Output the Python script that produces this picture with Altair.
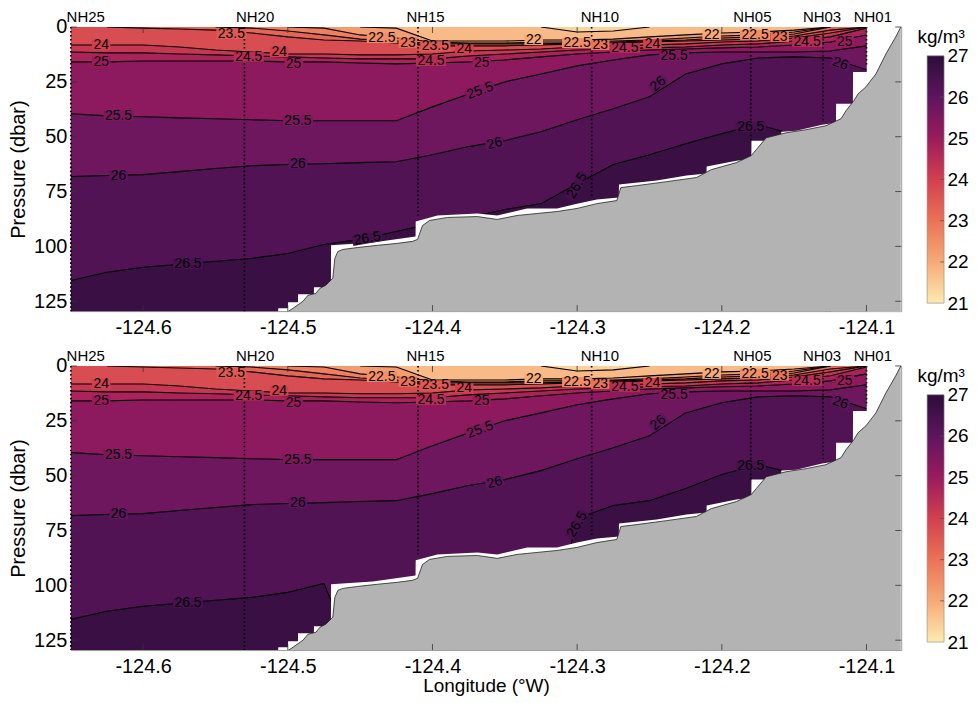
import altair as alt
import pandas as pd

# ---------------- data ----------------
LON = [-124.650, -124.625, -124.600, -124.575, -124.550, -124.525, -124.500, -124.475,
       -124.450, -124.425, -124.400, -124.375, -124.350, -124.325, -124.300, -124.275,
       -124.250, -124.225, -124.200, -124.175, -124.150, -124.125, -124.100]

LEVELS = [21.5, 22.0, 22.5, 23.0, 23.5, 24.0, 24.5, 25.0, 25.5, 26.0, 26.5]

# isopycnal depth (dbar) at each LON; 0 = outcropped, 140 = below the data
D215 = [0, 0, 0, 0, 0, 0, 0, 0, 0, 0, 0, 0, 0, 0, 2.3, 1.8, 0, 0, 0, 0, 0, 0, 0]
D220 = [0, 0, 0, 0, 0, 0, 0, 0, 0, 0.5, 6.4, 6.4, 6.4, 5.9, 5.9, 5.5, 4.5, 3.6, 2.7, 2.3, 1.4, 0, 0]
D225 = [0, 0, 0, 0, 0, 0, 0, 0.5, 3.6, 5.0, 6.8, 7.3, 7.3, 6.8, 6.8, 6.4, 5.9, 5.0, 4.1, 3.6, 2.3, 0, 0]
D230 = [0, 0, 0, 0, 0, 0.5, 1.8, 3.6, 5.5, 6.4, 7.7, 7.7, 7.7, 7.7, 7.3, 6.8, 6.4, 5.9, 5.0, 4.5, 3.2, 0, 0]
D235 = [0, 0, 0.5, 0.9, 1.4, 2.7, 4.5, 5.9, 6.4, 7.3, 8.6, 8.6, 8.6, 8.2, 7.7, 7.3, 6.8, 6.4, 5.9, 5.5, 4.1, 1.4, 0]
D240 = [8.2, 8.2, 8.2, 9.1, 10.5, 11.4, 12.3, 12.3, 12.7, 12.7, 12.3, 10.9, 10.5, 10.0, 9.1, 8.6, 8.2, 7.7, 6.8, 6.4, 5.0, 2.7, 0]
D245 = [11.4, 11.8, 11.8, 12.3, 12.7, 13.2, 13.6, 14.1, 14.5, 14.5, 14.5, 13.2, 12.3, 11.4, 10.5, 10.0, 9.5, 9.1, 8.2, 7.7, 6.4, 4.5, 0.5]
D250 = [15.9, 15.9, 15.5, 15.5, 15.5, 15.5, 15.9, 15.9, 16.4, 16.8, 16.4, 15.9, 15.0, 13.6, 12.3, 11.4, 10.5, 10.0, 9.5, 9.1, 8.2, 6.8, 3.6]
D255 = [39.5, 40.5, 40.9, 41.4, 41.8, 42.3, 42.7, 42.7, 42.7, 42.7, 36.4, 30.5, 25.0, 21.4, 17.7, 15.0, 12.7, 11.8, 11.4, 11.4, 11.4, 10.9, 8.6]
D260 = [68.2, 67.7, 67.3, 65.9, 64.5, 63.2, 62.7, 62.3, 61.8, 61.4, 58.2, 54.5, 51.8, 47.7, 42.3, 37.3, 31.8, 21.4, 16.8, 14.1, 13.6, 14.1, 19.5]
D265_TOP = [115.5, 111.8, 109.5, 108.2, 106.8, 105.5, 103.2, 99.1, 96.8, 93.2, 89.5, 86.8, 83.2, 80.5, 71.4, 62.7, 58.2, 53.2, 48.6, 44.5, 49.0, 140, 140]
D265_BOT = [115.5, 111.8, 109.5, 108.2, 106.8, 105.5, 103.2, 99.1, 140, 140, 140, 140, 140, 140, 69.5, 63.6, 61.4, 55.9, 49.5, 45.0, 49.0, 140, 140]

BAND_VALUES = [21.35, 21.75, 22.25, 22.75, 23.25, 23.75, 24.25, 24.75, 25.25, 25.75, 26.25, 26.75]

# lower edge of the gridded data (dbar)
MASK_LON = [-124.650, -124.5067, -124.5066, -124.4999, -124.4998, -124.4930, -124.4929, -124.4820,
            -124.4819, -124.4702, -124.4701, -124.4413, -124.4117, -124.4116, -124.3966, -124.3690,
            -124.3552, -124.3346, -124.3139, -124.3001, -124.2864, -124.2712, -124.2711, -124.2450,
            -124.2244, -124.2106, -124.2105, -124.1899, -124.1796, -124.1795, -124.1590, -124.1589,
            -124.1486, -124.1307, -124.1211, -124.1210, -124.1094, -124.1093, -124.0997, -124.0996,
            -124.076]
MASK_P = [130, 130, 128.2, 128.2, 125.5, 125.5, 121.8, 121.8, 118.6, 118.6, 99.5, 98.2, 95.5, 88.6,
          85.9, 85.0, 85.9, 82.7, 82.7, 80.5, 78.6, 77.7, 71.8, 70.0, 67.7, 66.8, 63.6, 60.9, 60.0,
          51.8, 51.8, 47.7, 47.3, 44.5, 43.6, 35.0, 35.0, 20.5, 20.5, 0, 0]

# bathymetry (dbar)
BATHY_LON = [-124.5026, -124.4964, -124.4895, -124.4861, -124.4806, -124.4778, -124.4737, -124.4689,
             -124.4675, -124.4654, -124.4620, -124.4517, -124.4379, -124.4241, -124.4138, -124.4103,
             -124.4069, -124.4021, -124.3897, -124.3690, -124.3552, -124.3415, -124.3277, -124.3139,
             -124.3001, -124.2864, -124.2726, -124.2698, -124.2588, -124.2382, -124.2175, -124.2072,
             -124.1899, -124.1796, -124.1762, -124.1693, -124.1555, -124.1417, -124.1280, -124.1176,
             -124.1142, -124.1087, -124.1059, -124.1004, -124.0935, -124.0866, -124.0798, -124.0763]
BATHY_P = [130.9, 128.2, 125.0, 122.3, 121.4, 119.1, 117.7, 114.5, 105.5, 102.3, 101.4, 100.5, 99.5,
           98.6, 97.7, 96.8, 90.5, 88.2, 86.8, 86.4, 87.7, 85.9, 85.0, 84.1, 82.7, 80.5, 79.1, 73.2,
           72.3, 70.5, 68.6, 65.0, 61.8, 58.6, 55.9, 50.5, 48.2, 46.8, 45.0, 41.8, 38.2, 33.6, 30.5,
           27.3, 21.4, 12.3, 4.5, 0]

ST_NAME = ["NH25", "NH20", "NH15", "NH10", "NH05", "NH03", "NH01"]
ST_LON = [-124.65, -124.53, -124.41, -124.29, -124.18, -124.13, -124.10]
ST_BOTTOM = [129.5, 129.5, 85.9, 78.2, 51.8, 42.7, 18.2]
ST_LABEL_LON = [-124.6397, -124.5226, -124.4048, -124.2843, -124.1789, -124.1307, -124.0956]

LBL_LON = [-124.539, -124.629, -124.629, -124.527, -124.506, -124.496, -124.435, -124.417, -124.398,
           -124.401, -124.378, -124.366, -124.617, -124.493, -124.617, -124.493, -124.569, -124.367,
           -124.357, -124.445, -124.300, -124.330, -124.300, -124.284, -124.267, -124.248, -124.233,
           -124.244, -124.207, -124.177, -124.160, -124.141, -124.115, -124.118, -124.180]
LBL_P = [3.2, 8.2, 15.9, 13.6, 11.4, 16.8, 5.0, 7.2, 8.8, 15.5, 10.2, 16.2, 40.5, 42.7, 67.7, 62.3,
         108.2, 29.1, 53.2, 96.4, 72.3, 5.9, 7.3, 8.2, 9.5, 7.7, 13.2, 25.9, 3.6, 3.6, 4.5, 6.8, 6.8,
         16.8, 45.5]
LBL_TEXT = ["23.5", "24", "25", "24.5", "24", "25", "22.5", "23", "23.5", "24.5", "24", "25", "25.5",
            "25.5", "26", "26", "26.5", "25.5", "26", "26.5", "26.5", "22", "22.5", "23", "24.5", "24",
            "25.5", "26", "22", "22.5", "23", "24.5", "25", "26", "26.5"]
LBL_ANGLE = [0, 0, 0, 0, 0, 0, 0, 0, 0, 0, 0, 0, 0, 0, 0, 0, 0, 340, 345, 350, 300, 0, 0, 0, 0, 0, 0,
             320, 0, 0, 0, 0, 0, 20, 0]
LBL_TOP_ONLY = [19]

XTICKS = [-124.6, -124.5, -124.4, -124.3, -124.2, -124.1]
YTICKS = [0, 25, 50, 75, 100, 125]

CB_VALUES = [21, 22, 23, 24, 25, 26, 27]
CB_COLORS = ["#FDEBB0", "#F6AA78", "#EB7256", "#D2404F", "#9C1A5E", "#5E155E", "#2D0D3B"]

# ---------------- chart ----------------
PW, PH = 833, 285
XS = alt.Scale(domain=[-124.65, -124.076], nice=False, zero=False)
YS = alt.Scale(domain=[0, 129.5], reverse=True, nice=False, zero=False)
CS = alt.Scale(domain=CB_VALUES, range=CB_COLORS, interpolate="rgb")
# colour-bar axis: the bar spans 29..277 px of the 285 px panel height
CB_SCALE = alt.Scale(domain=[20.806, 27.70], nice=False, zero=False)
LBL_FONT = 14


def make_axes(xtitle):
    xax = alt.Axis(values=XTICKS, labelExpr="'-' + format(-datum.value, '.1f')", ticks=False,
                   domain=False, grid=False, labelFontSize=20, labelPadding=6,
                   title=xtitle, titleFontSize=19, titleFontWeight="normal", titlePadding=1)
    yax = alt.Axis(values=YTICKS, ticks=False, domain=False, grid=False, labelFontSize=20,
                   labelPadding=4, title="Pressure (dbar)", titleFontSize=20,
                   titleFontWeight="normal", titlePadding=5)
    return xax, yax


def text_width(t):
    return sum(0.278 * LBL_FONT if c == "." else 0.556 * LBL_FONT for c in t) + 3


def panel(d265, top_panel, xtitle):
    depth = dict(zip(LEVELS, [D215, D220, D225, D230, D235, D240, D245, D250, D255, D260, d265]))
    xax, yax = make_axes(xtitle)

    def X(f):
        return alt.X(f, type="quantitative", scale=XS, axis=xax)

    def Y(f):
        return alt.Y(f, type="quantitative", scale=YS, axis=yax)

    rows = []
    nb = len(LEVELS) + 1
    for b in range(nb):
        for i, lon in enumerate(LON):
            top = 0 if b == 0 else depth[LEVELS[b - 1]][i]
            bot = 131 if b == nb - 1 else depth[LEVELS[b]][i]
            rows.append({"band": b, "lon": lon, "top": min(top, 131), "bot": min(bot, 131),
                         "val": BAND_VALUES[b]})
    bands = alt.Chart(pd.DataFrame(rows)).mark_area(clip=True, strokeWidth=0.6).encode(
        x=X("lon"), y=Y("top"), y2="bot",
        color=alt.Color("val:Q", scale=CS, legend=None),
        stroke=alt.Stroke("val:Q", scale=CS, legend=None),
        detail="band:N",
    )

    crow = []
    for lev in LEVELS:
        d = depth[lev]
        seg = 0
        open_seg = False
        for i in range(len(LON) - 1):
            inside = (0 < d[i] < 130) or (0 < d[i + 1] < 130)
            if inside:
                if not open_seg:
                    seg += 1
                    open_seg = True
                    crow.append({"key": f"{lev}_{seg}", "lon": LON[i], "p": d[i], "i": i})
                crow.append({"key": f"{lev}_{seg}", "lon": LON[i + 1], "p": d[i + 1], "i": i + 1})
            else:
                open_seg = False
    lines = alt.Chart(pd.DataFrame(crow)).mark_line(clip=True, color="black", strokeWidth=1.1).encode(
        x=X("lon"), y=Y("p"), detail="key:N", order="i:Q")

    mask_df = pd.DataFrame({"lon": MASK_LON, "p": MASK_P, "floor": [131] * len(MASK_P)})
    mask = alt.Chart(mask_df).mark_area(clip=True, color="white").encode(
        x=X("lon"), y=Y("p"), y2="floor")

    bathy_df = pd.DataFrame({"lon": BATHY_LON, "p": BATHY_P, "floor": [131] * len(BATHY_P)})
    bathy = alt.Chart(bathy_df).mark_area(clip=True, color="#B3B3B3").encode(
        x=X("lon"), y=Y("p"), y2="floor")
    bathy_line = alt.Chart(bathy_df).mark_line(clip=True, color="#222", strokeWidth=0.8).encode(
        x=X("lon"), y=Y("p"))

    st_df = pd.DataFrame({"lon": ST_LON, "top": [0] * len(ST_LON), "bottom": ST_BOTTOM})
    stations = alt.Chart(st_df).mark_rule(color="black", strokeWidth=1.7, strokeDash=[1.6, 2.4]).encode(
        x=X("lon"), y=Y("top"), y2="bottom")

    names = alt.Chart(pd.DataFrame({"lon": ST_LABEL_LON, "name": ST_NAME})).mark_text(
        fontSize=15, baseline="bottom", align="center", color="black").encode(
        x=X("lon"), y=alt.value(-2), text="name:N")

    idx = [k for k in range(len(LBL_TEXT)) if top_panel or k not in LBL_TOP_ONLY]
    widths = [text_width(LBL_TEXT[k]) for k in idx]
    lbl_df = pd.DataFrame({"lon": [LBL_LON[k] for k in idx], "p": [LBL_P[k] for k in idx],
                           "text": [LBL_TEXT[k] for k in idx], "angle": [LBL_ANGLE[k] for k in idx],
                           "val": [float(LBL_TEXT[k]) for k in idx],
                           "size": [w * w for w in widths],
                           "shape": [f"M-1,-{10.0 / w:.4f}H1V{10.0 / w:.4f}H-1Z" for w in widths]})
    patch = alt.Chart(lbl_df).mark_point(filled=True, strokeWidth=0, opacity=1).encode(
        x=X("lon"), y=Y("p"), shape=alt.Shape("shape:N", scale=None),
        size=alt.Size("size:Q", scale=None), angle=alt.Angle("angle:Q", scale=None),
        fill=alt.Fill("val:Q", scale=CS, legend=None))
    ltext = alt.Chart(lbl_df).mark_text(fontSize=LBL_FONT, baseline="middle", color="black").encode(
        x=X("lon"), y=Y("p"), text="text:N", angle=alt.Angle("angle:Q", scale=None))

    xt_df = pd.DataFrame({"t": XTICKS})
    xt_b = alt.Chart(xt_df).mark_rule(color="#333", strokeWidth=0.8).encode(
        x=X("t"), y=alt.value(PH), y2=alt.value(PH - 6))
    xt_t = alt.Chart(xt_df).mark_rule(color="#333", strokeWidth=0.8).encode(
        x=X("t"), y=alt.value(0), y2=alt.value(6))
    yt_df = pd.DataFrame({"t": YTICKS})
    yt_l = alt.Chart(yt_df).mark_rule(color="#333", strokeWidth=0.8).encode(
        y=Y("t"), x=alt.value(0), x2=alt.value(6))
    yt_r = alt.Chart(yt_df).mark_rule(color="#333", strokeWidth=0.8).encode(
        y=Y("t"), x=alt.value(PW), x2=alt.value(PW - 6))

    return alt.layer(bands, lines, mask, bathy, bathy_line, stations, xt_b, xt_t, yt_l, yt_r,
                     patch, ltext, names).properties(width=PW, height=PH)


def colorbar():
    stops = [alt.GradientStop(offset=(v - CB_VALUES[0]) / (CB_VALUES[-1] - CB_VALUES[0]), color=c)
             for v, c in zip(CB_VALUES, CB_COLORS)]
    grad = alt.Gradient(gradient="linear", stops=stops, x1=0, x2=0, y1=1, y2=0)
    df = pd.DataFrame({"lo": [CB_VALUES[0]], "hi": [CB_VALUES[-1]]})
    cax = alt.Axis(orient="right", values=CB_VALUES, ticks=False, domain=False, grid=False,
                   labelFontSize=19, labelPadding=3, title=None)
    bar = alt.Chart(df).mark_rect(fill=grad, stroke="#888", strokeWidth=0.6).encode(
        x=alt.value(0), x2=alt.value(17), y=alt.Y("lo:Q", scale=CB_SCALE, axis=cax), y2="hi")
    ticks = alt.Chart(pd.DataFrame({"v": CB_VALUES[1:-1]})).mark_rule(
        color="#555", strokeWidth=0.8).encode(
        y=alt.Y("v:Q", scale=CB_SCALE, axis=cax), x=alt.value(13), x2=alt.value(17))
    unit = alt.Chart(pd.DataFrame({"u": ["kg/m³"]})).mark_text(
        fontSize=19, align="center", baseline="alphabetic", color="black").encode(
        x=alt.value(14), y=alt.value(16), text="u:N")
    return alt.layer(bar, ticks, unit).properties(
        width=17, height=PH, view=alt.ViewBackground(stroke="transparent"))


def row(d265, top_panel, xtitle):
    return alt.hconcat(panel(d265, top_panel, xtitle), colorbar(), spacing=14).resolve_scale(
        y="independent", color="independent", stroke="independent", fill="independent")


top = row(D265_TOP, True, None)
bottom = row(D265_BOT, False, "Longitude (°W)")

chart = alt.vconcat(top, bottom, spacing=10).configure(
    font="Liberation Sans", padding={"left": 0, "top": 0, "right": 0, "bottom": 0}).configure_view(
    stroke="#999", strokeWidth=1)

chart.save("out.html", embed_options={"renderer": "svg", "actions": False})
